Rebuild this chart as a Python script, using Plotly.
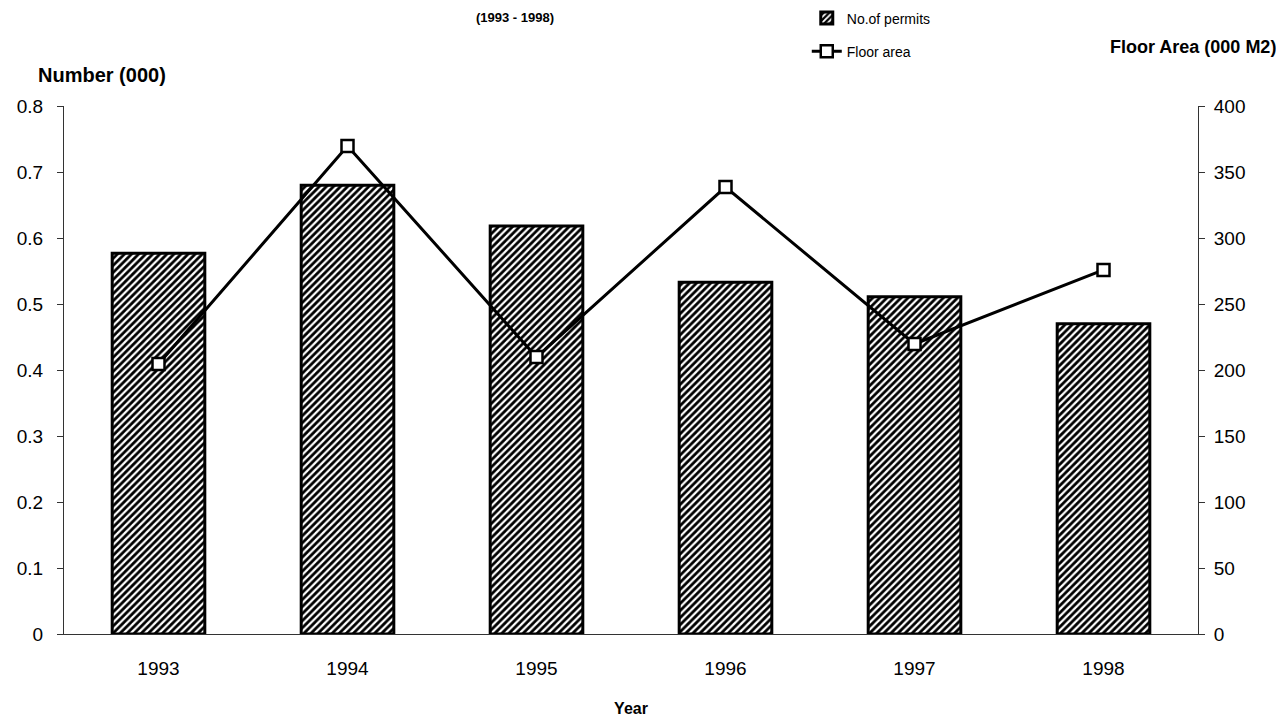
import plotly.graph_objects as go

years = ["1993", "1994", "1995", "1996", "1997", "1998"]
permits = [0.577, 0.680, 0.618, 0.533, 0.511, 0.470]
floor_area = [204.5, 369.7, 209.8, 338.6, 219.7, 275.8]

left_ticks = [0, 0.1, 0.2, 0.3, 0.4, 0.5, 0.6, 0.7, 0.8]
left_ticktext = ["0", "0.1", "0.2", "0.3", "0.4", "0.5", "0.6", "0.7", "0.8"]
right_ticks = [0, 50, 100, 150, 200, 250, 300, 350, 400]

FONT = "Liberation Sans, Arial, sans-serif"

fig = go.Figure()
fig.add_trace(go.Bar(
    x=years, y=permits, name="No.of permits", yaxis="y",
    width=0.49, legendgroup="a",
    marker=dict(color="black", line=dict(color="black", width=3),
                pattern=dict(shape="/", fgcolor="white", bgcolor="black",
                             size=5, solidity=0.45, fillmode="replace")),
))
fig.add_trace(go.Scatter(
    x=years, y=floor_area, name="Floor area", yaxis="y2",
    mode="lines+markers", legendgroup="b",
    line=dict(color="black", width=3),
    marker=dict(symbol="square", size=12, color="white",
                line=dict(color="black", width=2.5)),
))

fig.update_layout(
    width=1284, height=722,
    margin=dict(l=56, r=94, t=98, b=96, autoexpand=False),
    paper_bgcolor="white", plot_bgcolor="white",
    font=dict(family=FONT, color="black", size=18),
    bargap=0.51,
    showlegend=True,
    legend=dict(x=0.655, y=1.196, xanchor="left", yanchor="top",
                font=dict(size=14, family=FONT), bgcolor="rgba(0,0,0,0)",
                tracegroupgap=12, traceorder="grouped", itemwidth=30),
    xaxis=dict(type="category", showline=True, linecolor="#333", linewidth=1,
               ticks="", showgrid=False, tickfont=dict(size=19), automargin=False,
               ticklabelstandoff=17,
               title=dict(text="<b>Year</b>", font=dict(size=16), standoff=25)),
    yaxis=dict(range=[0, 0.8], tickvals=left_ticks, ticktext=left_ticktext,
               showline=True, linecolor="#333", linewidth=1, showgrid=False,
               ticks="outside", ticklen=6, tickcolor="#333", automargin=False,
               ticklabelstandoff=10,
               tickfont=dict(size=19), zeroline=False),
    yaxis2=dict(range=[0, 400], tickvals=right_ticks, overlaying="y", side="right",
                showline=True, linecolor="#333", linewidth=1, showgrid=False,
                ticks="outside", ticklen=6, tickcolor="#333", automargin=False,
                ticklabelstandoff=5,
                tickfont=dict(size=19), zeroline=False),
    annotations=[
        dict(text="<b>Number (000)</b>", xref="paper", yref="paper",
             x=0, y=1, xshift=-28, yshift=18, xanchor="left", yanchor="bottom",
             showarrow=False, font=dict(size=20)),
        dict(text="<b>Floor Area (000 M2)</b>", xref="paper", yref="paper",
             x=1, y=1, xshift=80, yshift=47, xanchor="right", yanchor="bottom",
             showarrow=False, font=dict(size=18)),
        dict(text="<b>(1993 - 1998)</b>", xref="paper", yref="paper",
             x=0.398, y=1, yshift=98, xanchor="center", yanchor="top",
             showarrow=False, font=dict(size=13)),
    ],
)

fig.write_html("out.html")
